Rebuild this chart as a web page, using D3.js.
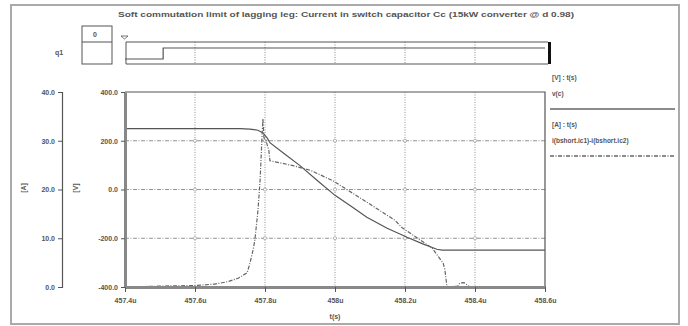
<!DOCTYPE html>
<html>
<head>
<meta charset="utf-8">
<script src="https://cdn.jsdelivr.net/npm/d3@7"></script>
<style>
  body { margin: 0; background: #fff; }
  svg { display: block; }
  text { font-family: "Liberation Sans", Arial, sans-serif; fill: #555; font-weight: bold; }
</style>
</head>
<body>
<div id="chart"></div>
<script>
// ---- data ----
const xTicks = [457.4, 457.6, 457.8, 458.0, 458.2, 458.4, 458.6];
const xTickLabels = ['457.4u', '457.6u', '457.8u', '458u', '458.2u', '458.4u', '458.6u'];
const vTicks = [400, 200, 0, -200, -400];
const vTickLabels = ['400.0', '200.0', '0.0', '-200.0', '-400.0'];
const aTicks = [40, 30, 20, 10, 0];
const aTickLabels = ['40.0', '30.0', '20.0', '10.0', '0.0'];

// v(c) in V
const vTime = [457.400, 457.729, 457.757, 457.780, 457.794, 457.806, 457.814, 457.857, 457.900,
  457.951, 458.000, 458.046, 458.091, 458.149, 458.206, 458.249, 458.291, 458.306, 458.600];
const vValues = [250, 250, 248, 243, 232, 212, 192, 145, 98,
  35, -24, -69, -114, -159, -196, -222, -245, -249, -249];

// i(bshort.ic1)-i(bshort.ic2) in A
const iTime = [457.400, 457.514, 457.600, 457.657, 457.694, 457.723, 457.749, 457.757, 457.766,
  457.771, 457.777, 457.780, 457.786, 457.791, 457.794, 457.797, 457.803, 457.811, 457.814,
  457.880, 457.931, 457.994, 458.080, 458.171, 458.191, 458.277, 458.309, 458.314, 458.320,
  458.351, 458.357, 458.369, 458.380, 458.386, 458.600];
const iValues = [0, 0.2, 0.3, 0.6, 1.1, 1.8, 2.9, 4.9, 7.6,
  9.6, 13.7, 15.8, 21.9, 30.0, 34.5, 30.6, 30.0, 28.0, 25.9,
  24.9, 23.9, 21.8, 17.9, 13.7, 12.2, 8.0, 4.9, 3.5, 0,
  0.2, 0.8, 0.9, 0.3, 0, 0];

// digital trace q1
const qTime = [457.4, 457.509, 458.6];
const qStates = [0, 1, 1];

const W = 688, H = 326;
const plot = { left: 125, right: 545, top: 92, bottom: 287 };
const ink = '#555';

const svg = d3.select('#chart').append('svg').attr('width', W).attr('height', H);

// outer frame
svg.append('rect')
  .attr('x', 11).attr('y', 5).attr('width', 668).attr('height', 319)
  .attr('fill', 'none').attr('stroke', '#aaa').attr('stroke-width', 2);

// title
svg.append('text')
  .attr('x', 118).attr('y', 17)
  .attr('textLength', 456).attr('lengthAdjust', 'spacingAndGlyphs')
  .style('font-size', '7.5px')
  .text('Soft commutation limit of lagging leg: Current in switch capacitor Cc (15kW converter @ d 0.98)');

/* Scales */
const x = d3.scaleLinear().domain([457.4, 458.6]).range([plot.left, plot.right]);
const yV = d3.scaleLinear().domain([-400, 400]).range([plot.bottom, plot.top]);
const yA = d3.scaleLinear().domain([0, 40]).range([plot.bottom, plot.top]);

/* Digital panel */
const qTop = 42, qBottom = 64;
const yQ = d3.scaleLinear().domain([0, 1]).range([59, 48]);
const dig = svg.append('g');
dig.append('rect').attr('x', 82).attr('y', 26).attr('width', 30).attr('height', 38)
  .attr('fill', 'none').attr('stroke', ink).attr('stroke-width', 1);
dig.append('line').attr('x1', 82).attr('x2', 112).attr('y1', 42).attr('y2', 42)
  .attr('stroke', ink);
dig.append('text').attr('x', 93).attr('y', 37).style('font-size', '7px').text('0');
dig.append('text').attr('x', 55).attr('y', 55).style('font-size', '7px').text('q1');

dig.selectAll('.qgrid').data(xTicks.slice(1, -1)).enter().append('line')
  .attr('x1', d => x(d)).attr('x2', d => x(d))
  .attr('y1', qTop).attr('y2', qBottom)
  .attr('stroke', '#888').attr('stroke-dasharray', '1,1.5');
dig.append('path')
  .attr('d', `M${x(457.4) + 1},${qTop}H${x(458.6) + 3}M${x(457.4) + 1},${qBottom}H${x(458.6) + 3}M${x(457.4) + 1},${qTop}V${qBottom}`)
  .attr('stroke', ink).attr('fill', 'none');
const qLine = d3.line().curve(d3.curveStepAfter)
  .x(d => x(d[0])).y(d => yQ(d[1]));
dig.append('path')
  .attr('d', qLine(qTime.map((t, i) => [t, qStates[i]])))
  .attr('fill', 'none').attr('stroke', ink).attr('stroke-width', 1.2);
dig.append('path').attr('d', `M${x(457.4) - 4},36h7l-3.5,3z`)
  .attr('fill', 'none').attr('stroke', ink).attr('stroke-width', 0.8);
dig.append('rect').attr('x', x(458.6) + 3).attr('y', qTop).attr('width', 3).attr('height', qBottom - qTop)
  .attr('fill', '#111');

/* Grid */
const grid = svg.append('g');
grid.selectAll('.vg').data(xTicks.slice(1, -1)).enter().append('line')
  .attr('x1', d => x(d)).attr('x2', d => x(d))
  .attr('y1', plot.top).attr('y2', plot.bottom)
  .attr('stroke', '#777').attr('stroke-width', 0.8).attr('stroke-dasharray', '1,1.5');
grid.selectAll('.hg').data(vTicks.slice(1, -1)).enter().append('line')
  .attr('x1', plot.left).attr('x2', plot.right)
  .attr('y1', d => yV(d)).attr('y2', d => yV(d))
  .attr('stroke', '#777').attr('stroke-width', 0.8).attr('stroke-dasharray', '4,1.5,1,1.5');
const cross = [];
xTicks.slice(1, -1).forEach(t => vTicks.slice(1, -1).forEach(v => cross.push([t, v])));
grid.selectAll('circle').data(cross).enter().append('circle')
  .attr('cx', d => x(d[0])).attr('cy', d => yV(d[1])).attr('r', 1.6)
  .attr('fill', '#fff').attr('stroke', '#888').attr('stroke-width', 0.6);

// plot border: top/right thin
svg.append('path')
  .attr('d', `M${plot.left},${plot.top}H${plot.right}V${plot.bottom}`)
  .attr('fill', 'none').attr('stroke', ink).attr('stroke-width', 1.2);

/* Lines */
const line = d3.line().x(d => x(d[0])).y(d => d[1]);
svg.append('path')
  .attr('d', line(vTime.map((t, i) => [t, yV(vValues[i])])))
  .attr('fill', 'none').attr('stroke', ink).attr('stroke-width', 1.2);
svg.append('path')
  .attr('d', line(iTime.map((t, i) => [t, yA(iValues[i])])))
  .attr('fill', 'none').attr('stroke', '#666').attr('stroke-width', 1.2)
  .attr('stroke-dasharray', '4,1.5,1,1.5');

/* Axes */
const xAxis = d3.axisBottom(x).tickValues(xTicks)
  .tickFormat((d, i) => xTickLabels[i]).tickSize(5).tickSizeOuter(0);
const gx = svg.append('g').attr('transform', `translate(0,${plot.bottom})`).call(xAxis);
gx.select('.domain').attr('stroke', '#888').attr('stroke-width', 3);
gx.selectAll('.tick line').attr('stroke', ink);
gx.selectAll('.tick text').attr('dy', '1.1em').style('font-size', '7px').style('font-family', 'inherit');

const vAxis = d3.axisLeft(yV).tickValues(vTicks)
  .tickFormat((d, i) => vTickLabels[i]).tickSize(4).tickSizeOuter(0);
const gv = svg.append('g').attr('transform', `translate(${plot.left},0)`).call(vAxis);
gv.select('.domain').attr('stroke', '#888').attr('stroke-width', 3);
gv.selectAll('.tick line').attr('stroke', ink);
gv.selectAll('.tick text').style('font-size', '7px').style('font-family', 'inherit');

const aAxis = d3.axisLeft(yA).tickValues(aTicks)
  .tickFormat((d, i) => aTickLabels[i]).tickSize(4).tickSizeOuter(4);
const ga = svg.append('g').attr('transform', 'translate(62,0)').call(aAxis);
ga.select('.domain').attr('stroke', ink).attr('stroke-width', 1.2);
ga.selectAll('.tick line').attr('stroke', ink);
ga.selectAll('.tick text').style('font-size', '7px').style('font-family', 'inherit');

svg.selectAll('.tick text').attr('fill', '#555');

// axis titles
svg.append('text').attr('transform', 'translate(26,188) rotate(-90)')
  .attr('text-anchor', 'middle').style('font-size', '7px').text('[A]');
svg.append('text').attr('transform', 'translate(78,188) rotate(-90)')
  .attr('text-anchor', 'middle').style('font-size', '7px').text('[V]');
svg.append('text').attr('x', x(458.0)).attr('y', 319)
  .attr('text-anchor', 'middle').style('font-size', '7px').text('t(s)');

/* Legend */
const legendItems = [
  { head: '[V] : t(s)', name: 'v(c)', dash: null, y: 80 },
  { head: '[A] : t(s)', name: 'i(bshort.ic1)-i(bshort.ic2)', dash: '4,1.5,1,1.5', y: 127 }
];
const lg = svg.selectAll('.legend').data(legendItems).enter().append('g');
lg.append('text').attr('x', 552).attr('y', d => d.y).style('font-size', '6.5px').text(d => d.head);
lg.append('text').attr('x', 552).attr('y', d => d.y + 16).style('font-size', '6.5px').text(d => d.name);
lg.append('line')
  .attr('x1', 550).attr('x2', 675)
  .attr('y1', d => d.y + 29).attr('y2', d => d.y + 29)
  .attr('stroke', '#666').attr('stroke-width', 1.5)
  .attr('stroke-dasharray', d => d.dash);
</script>
</body>
</html>
